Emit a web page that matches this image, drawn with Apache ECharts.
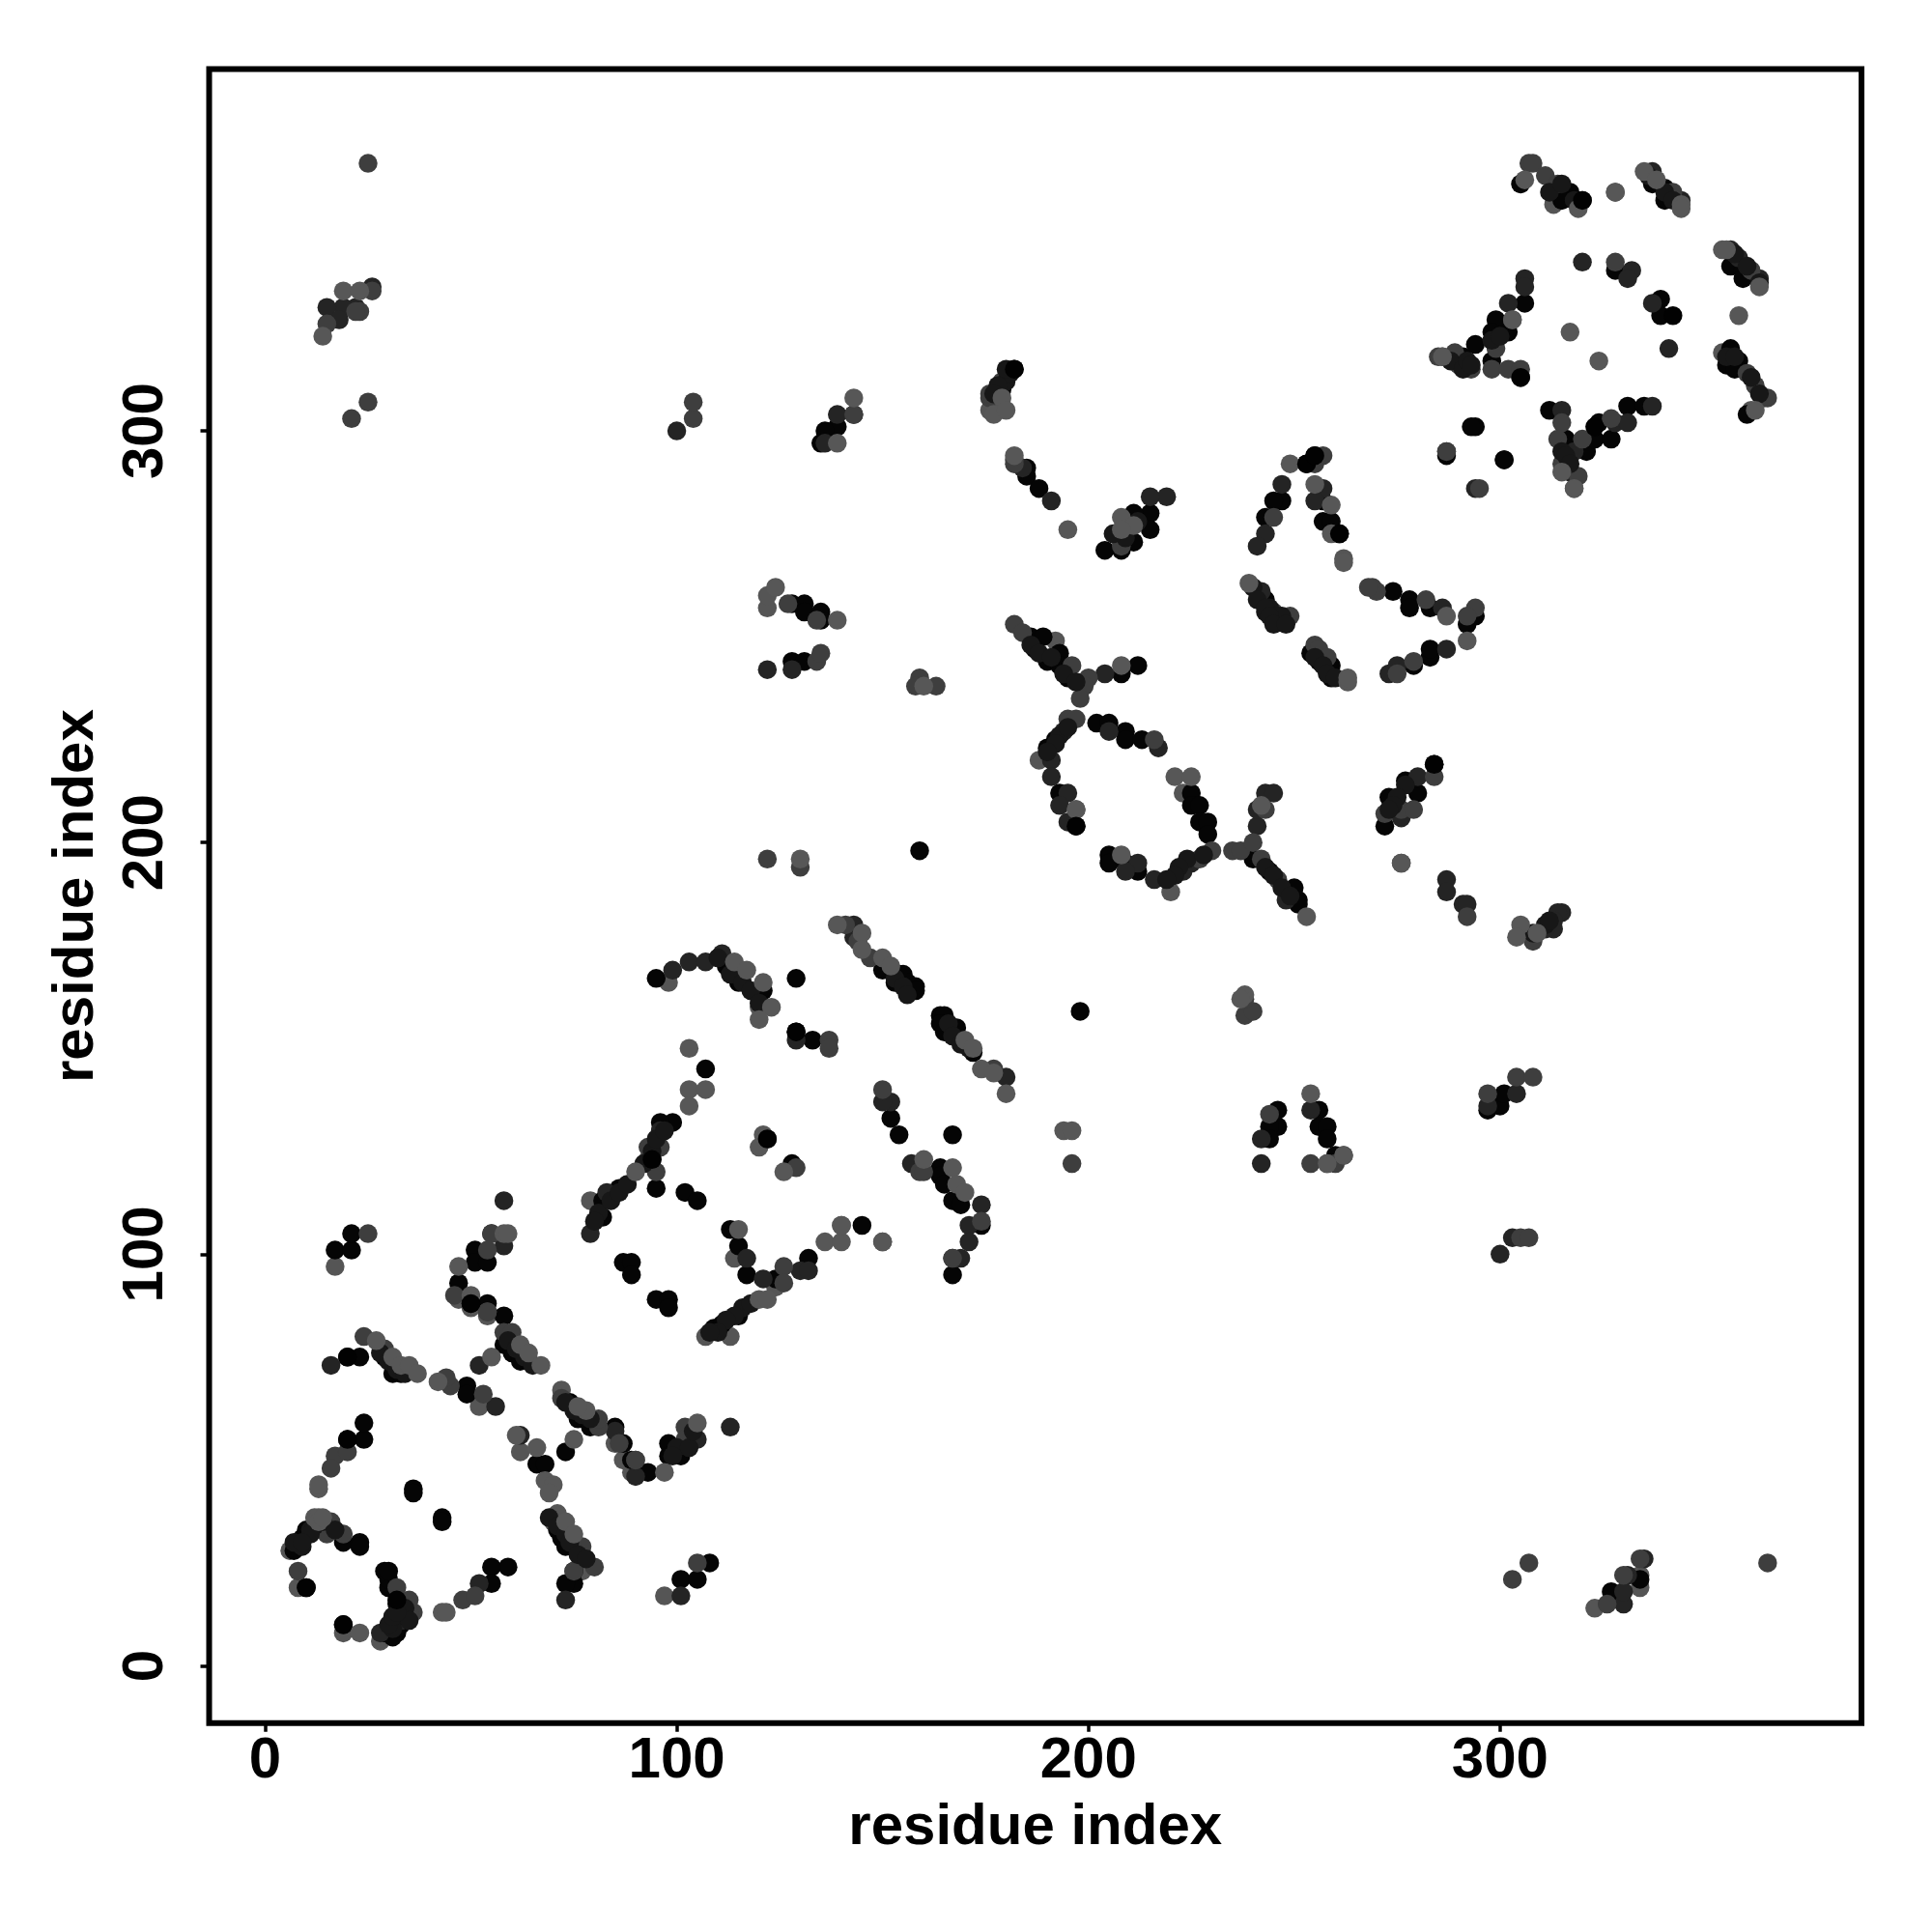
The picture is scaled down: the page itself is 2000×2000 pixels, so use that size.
<!DOCTYPE html>
<html><head><meta charset="utf-8">
<style>html,body{margin:0;padding:0;background:#fff}#c{width:2000px;height:2000px}</style>
<script src="https://cdn.jsdelivr.net/npm/echarts@6/dist/echarts.min.js"></script>
</head><body><div id="c"></div>
<script>
const tickValues = [0, 100, 200, 300];
const axisTitle = "residue index";
const grayUnder = [[19,8],[28,6],[8,19],[6,28],[17,97],[47,89],[50,87],[54,85],[85,54],[87,50],[89,47],[52,63],[62,52],[71,37],[70,35],[72,67],[77,23],[122,257],[122,260],[98,166],[120,160],[114,99],[93,123],[79,113],[107,80],[113,80],[124,92],[262,269],[220,188],[192,249],[188,220],[223,212],[313,355],[318,286],[361,305],[354,319],[286,318],[305,360],[97,17],[323,14],[334,19],[334,22],[176,305],[178,307]];
const black = [[19,10],[29,8],[30,8],[32,8],[31,7],[32,9],[33,10],[32,15],[30,19],[30,21],[29,23],[30,23],[10,19],[7,28],[8,30],[9,31],[10,32],[10,33],[19,30],[23,30],[23,29],[20,55],[24,55],[24,59],[36,43],[36,42],[43,36],[43,35],[59,24],[55,24],[55,20],[75,20],[75,23],[71,33],[72,31],[73,29],[73,52],[74,64],[76,62],[76,60],[79,58],[85,58],[87,54],[89,50],[93,47],[98,54],[98,51],[101,51],[51,101],[51,98],[54,98],[47,93],[50,88],[54,88],[58,85],[58,78],[60,76],[62,74],[64,74],[20,75],[23,75],[29,75],[31,71],[33,71],[17,101],[21,101],[21,105],[49,68],[49,66],[66,49],[68,49],[95,89],[98,89],[98,87],[87,98],[89,98],[89,95],
[95,167],[112,170],[115,166],[121,164],[129,167],[129,154],[133,152],[107,145],[99,132],[96,132],[94,123],[86,116],[82,113],[82,109],[95,116],[102,115],[105,113],[122,128],[128,122],[150,169],[154,168],[155,168],[153,166],[156,166],[158,165],[158,164],[164,158],[165,158],[164,156],[168,155],[165,154],[170,151],[172,149],[152,133],[154,129],[167,129],[164,121],[164,119],[165,117],[167,113],[169,112],[174,107],[167,95],[113,106],[115,102],[117,95],[124,94],[132,99],[109,82],[111,83],[115,85],[145,107],[198,159],[159,198],[101,21],[105,21],[108,25],[327,18],[334,21],[73,20],
[128,258],[131,258],[131,256],[135,256],[135,254],[128,244],[131,244],[139,301],[136,300],[135,297],[179,310],[143,304],[185,291],[185,289],[188,286],[215,280],[211,280],[215,276],[211,273],[204,271],[208,271],[186,250],[189,250],[187,247],[193,246],[190,244],[193,243],[195,240],[208,241],[212,243],[192,225],[190,223],[202,229],[205,229],[209,227],[209,225],[213,225],[225,212],[225,209],[227,209],[227,205],[229,205],[229,202],[212,193],[209,195],[205,197],[205,195],[197,204],[193,212],[240,196],[244,193],[250,189],[251,186],[251,185],[256,135],[256,131],[258,131],[258,128],[246,131],[244,131],[244,128],[246,135],[297,135],[300,136],[301,139],[260,124],
[272,204],[284,219],[280,212],[277,215],[273,211],[243,279],[247,283],[245,283],[253,292],[255,294],[257,283],[257,278],[259,278],[261,275],[243,259],[245,254],[247,254],[254,246],[256,244],[259,243],[259,240],[274,261],[278,259],[278,257],[283,257],[279,243],[283,245],[283,247],[294,255],[292,253],[294,301],[287,294],[301,293],
[305,360],[314,358],[316,358],[317,358],[315,356],[320,356],[337,360],[340,359],[340,356],[356,340],[359,339],[359,337],[356,320],[358,317],[355,316],[357,315],[360,304],[339,332],[339,328],[328,339],[306,331],[299,327],[302,324],[298,324],[294,321],[298,317],[305,313],[291,318],[293,301],[301,293],[312,305],[316,298],[321,295],[323,298],[324,302],[327,298],[331,306],[335,306]];
const nearBlack = [[16,73],[33,11],[28,8],[52,73],[52,20],[56,63],[62,56],[79,105],[83,115],[96,130],[99,169],[103,171],[107,171],[111,173],[121,94],[130,96],[132,96],[117,99],[129,152],[152,137],[150,137],[113,58],[105,55],[85,57],[90,46],[58,113],[55,105],[58,102],[122,242],[128,242],[100,300],[139,304],[136,297],[204,241],[191,283],[219,284],[215,284],[208,273],[194,227],[191,220],[191,216],[205,227],[217,223],[195,212],[193,209],[195,205],[212,195],[209,193],[216,191],[225,195],[223,193],[241,204],[241,208],[243,212],[245,212],[248,186],[276,206],[280,216],[287,191],[291,185],[292,185],[287,188],[247,287],[243,275],[241,272],[257,286],[255,283],[242,261],[242,122],[242,128],[254,135],[297,136],[300,100],[303,104],[304,139],[315,183],[314,183],[313,181],[313,179],[311,179],[273,241],[275,243],[287,247],[286,257],[287,295],[294,286],[320,341],[332,339],[331,337],[337,331],[341,320],[302,331],[306,337],[306,335],[356,344],[358,342],[363,337],[337,363],[344,356],[337,306],[328,302],[331,302],[318,295],[316,292],[317,290],[315,305],[26,335],[22,330],[19,330],[15,330],[18,327],[174,112],[167,99],[169,99],[171,107],[171,103],[157,122],[73,16],[101,17],[330,15],[330,18],[331,22],[335,26],[184,291],[143,180],[143,177],[180,143]];
const midGray = [[36,13],[35,13],[32,19],[35,16],[8,23],[16,35],[15,32],[19,32],[17,51],[20,52],[16,48],[48,16],[51,17],[80,24],[77,29],[75,23],[72,65],[81,58],[81,60],[90,50],[24,80],[29,77],[25,105],[46,90],[54,86],[58,81],[60,81],[53,66],[45,68],[44,70],[55,105],[54,101],[25,365],[26,334],[23,329],[22,329],[15,326],[25,307],[21,303],[104,303],[104,307],[143,304],[176,308],[127,258],[134,254],[134,244],[135,246],[182,253],[184,251],[159,240],[158,238],[163,238],[196,243],[200,240],[199,238],[198,235],[195,230],[197,230],[216,225],[208,272],[197,208],[230,198],[227,196],[235,198],[237,198],[240,200],[242,196],[246,191],[243,208],[284,216],[276,208],[279,208],[272,207],[276,195],[245,279],[255,292],[257,294],[245,256],[249,255],[255,248],[256,247],[258,245],[269,262],[270,261],[268,262],[282,259],[279,244],[275,241],[294,257],[292,255],[287,295],[295,286],[150,140],[137,152],[137,150],[140,107],[150,103],[96,126],[93,126],[95,120],[129,121],[126,97],[126,93],[159,120],[160,120],[174,108],[167,99],[238,158],[240,159],[238,162],[297,139],[304,143],[308,143],[305,104],[307,104],[254,122],[258,122],[260,122],[262,124],[244,134],[308,176],[292,182],[328,358],[307,365],[308,365],[311,362],[314,360],[342,358],[361,339],[360,314],[362,311],[364,308],[365,308],[328,341],[303,327],[299,320],[315,302],[314,298],[320,298],[327,303],[315,292],[319,289],[285,318],[289,319],[290,316],[293,315],[298,315],[302,315],[305,315],[54,86],[102,58],[102,55],[90,50],[86,54],[307,25],[303,21],[365,25],[326,15],[330,22],[334,26],[105,25],[196,122],[122,196],[130,194],[182,293],[182,292],[176,309],[179,312],[141,180],[144,176],[147,172],[177,145]];
const chainDark = [[81,110],[84,113],[86,115],[88,117],[92,122],[94,125],[95,128],[97,130],[80,108],[116,87],[118,88],[114,85],[112,84],[110,81],[108,81],[11,33],[12,34],[9,29],[7,30],[34,12],[34,14],[35,11],[31,9],[30,10],[31,12],[32,13],[312,358],[315,360],[318,356],[336,362],[340,358],[342,356],[357,343],[360,340],[363,336],[355,318],[357,318],[361,313],[363,309],[153,167],[155,165],[156,163],[166,156],[167,153],[169,151],[171,150],[110,172],[113,168],[116,166],[118,164],[120,161],[186,248],[188,246],[191,245],[194,241],[197,239],[193,226],[192,224],[190,222],[195,228],[224,196],[222,194],[221,192],[219,191],[228,197],[243,194],[245,192],[247,189],[249,187],[308,178],[311,180],[312,181],[277,214],[275,211],[274,209],[273,208],[210,277],[212,278],[209,274],[206,275],[244,257],[245,255],[243,256],[255,245],[257,243],[258,241],[260,240],[69,36],[71,34],[73,32],[74,30],[76,27],[78,26],[75,62],[77,61],[79,60],[73,64],[59,79],[61,77],[63,75],[65,73],[28,76],[30,74],[32,72],[34,71],[14,35],[17,33],[11,32],[9,30],[100,53],[103,53],[104,57],[99,51],[240,262],[241,259],[243,257],[246,255],[247,255],[244,255],[245,253],[248,253],[180,312],[181,314],[182,315],[180,315],[178,311],[177,309],[288,317],[291,315],[292,317],[293,316],[298,322],[300,323],[315,295],[316,294],[317,292]];
const gray = [[23,8],[13,43],[13,44],[12,36],[13,36],[13,35],[14,36],[27,79],[31,75],[33,73],[35,73],[37,71],[42,69],[50,90],[55,75],[62,78],[64,76],[67,73],[61,56],[66,53],[68,45],[70,44],[69,42],[73,35],[75,32],[78,62],[75,55],[76,63],[97,47],[105,59],[47,97],[58,105],[59,105],[14,323],[19,334],[23,334],[103,150],[103,140],[107,140],[103,136],[90,120],[114,171],[117,169],[121,166],[123,160],[120,157],[139,180],[145,178],[145,174],[150,172],[152,170],[170,152],[172,150],[174,145],[177,144],[180,139],[120,126],[121,129],[126,120],[160,123],[167,121],[168,117],[170,115],[115,106],[136,103],[140,103],[140,107],[150,103],[120,89],[122,89],[143,308],[139,297],[124,262],[139,254],[179,308],[177,304],[180,305],[160,238],[195,276],[208,279],[211,277],[208,276],[208,243],[208,197],[197,208],[221,216],[225,216],[242,209],[253,182],[238,163],[237,162],[305,180],[304,177],[309,178],[254,139],[258,122],[262,124],[276,195],[292,249],[249,292],[255,287],[259,282],[259,275],[262,268],[239,263],[287,255],[263,239],[263,240],[306,361],[319,354],[335,363],[338,361],[344,355],[344,354],[328,358],[354,344],[355,344],[358,328],[363,335],[317,324],[324,317],[303,327],[286,318],[318,286],[362,305],[315,290],[43,13],[44,13],[194,130],[196,130],[130,196],[182,294]];
const blackTop = [[20,55],[32,16],[10,19],[19,10],[50,88],[122,128],[129,154],[94,123],[20,75],[320,356],[261,275],[305,313],[342,328],[284,219],[197,204],[323,301],[253,292],[255,294],[182,315]];

const shades = { grayUnder:'#555555', black:'#050505', nearBlack:'#242424', midGray:'#3e3e3e', chainDark:'#171717', gray:'#575757', blackTop:'#020202' };
const layers = { grayUnder, black, nearBlack, midGray, chainDark, gray, blackTop };
const chart = echarts.init(document.getElementById('c'), null, {renderer:'canvas'});
const fontFamily = '"Liberation Sans", Arial, sans-serif';
function axis(isY){
  return {
    type:'value', min:-13.6, max:387.8,
    name:axisTitle, nameLocation:'middle', nameGap:isY?107:79, nameRotate:isY?90:0,
    nameTextStyle:{fontFamily,fontWeight:'bold',fontSize:60,color:'#000'},
    axisLine:{show:false,onZero:false}, splitLine:{show:false},
    axisTick:{show:true,length:9,inside:false,lineStyle:{color:'#000',width:3.5},customValues:tickValues},
    axisLabel:{show:true,fontFamily,fontWeight:'bold',fontSize:60,color:'#000',margin:isY?35:10,rotate:isY?90:0,
      customValues:tickValues,formatter:v=>String(v),hideOverlap:false}
  };
}
const xA = axis(false), yA = axis(true);
yA.min=-13.9; yA.max=387.9;
chart.setOption({
  animation:false, backgroundColor:'#fff',
  grid:{left:216.5,right:73,top:71.5,bottom:216.3,show:true,borderWidth:6,borderColor:'#000',backgroundColor:'#fff'},
  xAxis:xA, yAxis:yA,
  series:Object.keys(layers).map(k=>({
    name:k,type:'scatter',data:layers[k],symbol:'circle',symbolSize:19.5,
    itemStyle:{color:shades[k],opacity:1},silent:true,animation:false,clip:false
  }))
});
</script></body></html>
